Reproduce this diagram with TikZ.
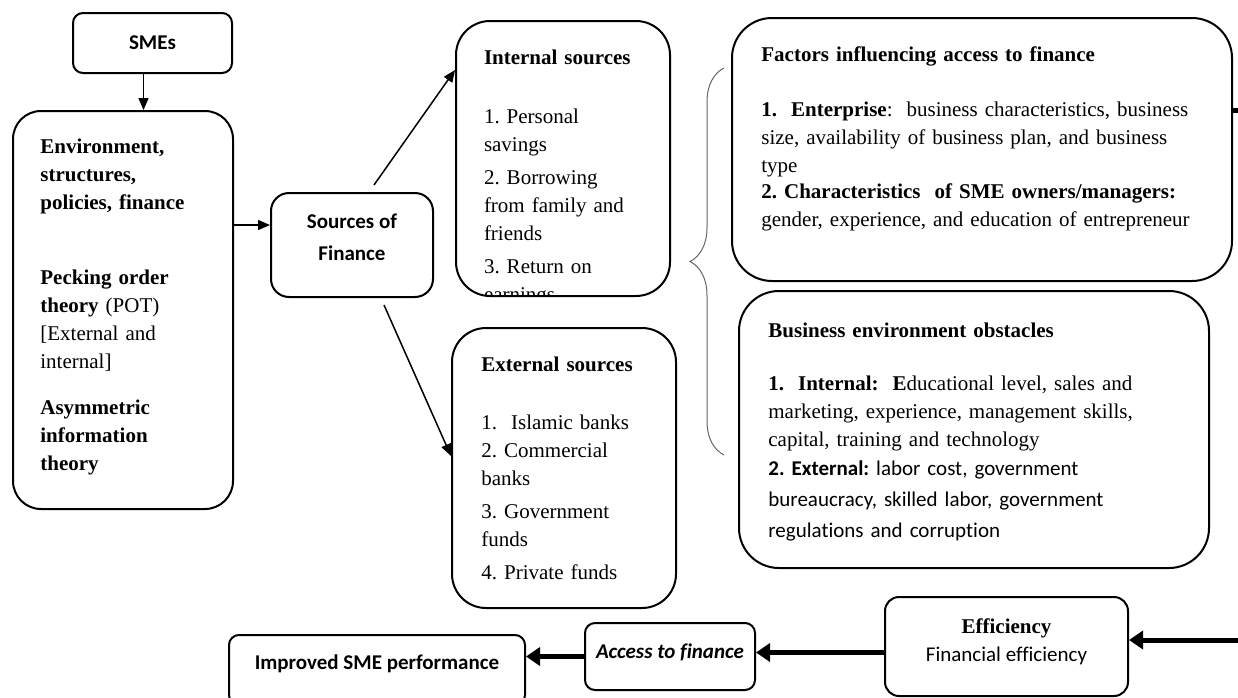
\documentclass[tikz,border=0pt]{standalone}
\usepackage{fontspec}
\setmainfont{Liberation Serif}
\setsansfont{Carlito}[Ligatures=NoCommon]
\usepackage{tikz}
\usetikzlibrary{positioning, arrows.meta, decorations.pathreplacing}
\frenchspacing

\begin{document}
\begin{tikzpicture}[x=0.5pt, y=-0.5pt,
  box/.style={draw, line width=1pt, rounded corners=#1, inner sep=0pt},
  box/.default=6pt,
  txt/.style={inner sep=0pt, anchor=north west, align=left, font=\fontsize{10.5}{14}\selectfont},
  sans/.style={font=\sffamily\bfseries\fontsize{10.5}{16}\selectfont},
  arr/.style={-{Triangle[length=6pt,width=5pt]}, line width=0.75pt},
  big/.style={-{Triangle[length=7pt,width=9pt]}, line width=2.5pt}]
\useasboundingbox (0,0) rectangle (1238,697);
\clip (0,0) rectangle (1238,697);

% boxes
\node[box=5pt, minimum width=79.5pt, minimum height=30pt, sans] (smes) at (152.5,43) {SMEs};
\node[box=14pt, minimum width=110pt, minimum height=199pt, anchor=north west] (env) at (12,110) {};
\node[box=9pt, minimum width=81pt, minimum height=52pt, anchor=north west, align=center, sans, text depth=7.5pt] (sof) at (270,192) {Sources of\\Finance};
\node[box=17pt, minimum width=107pt, minimum height=137.5pt, anchor=north west,
  path picture={\node[txt, text width=95pt] (intltxt) at ([xshift=7.5pt, yshift=-9pt]path picture bounding box.north west) {\textbf{Internal sources}\\[15.5pt]
  1. Personal\\ savings\\[2.5pt]
  2. Borrowing\\ from family and\\ friends\\[2.5pt]
  3. Return on\\ earnings};}] (intl) at (455,20) {};
\node[box=17pt, minimum width=112pt, minimum height=140pt, anchor=north west] (extl) at (451,327) {};
\node[box=20pt, minimum width=250pt, minimum height=131.5pt, anchor=north west] (fact) at (731,17) {};
\node[box=20pt, minimum width=235pt, minimum height=138.5pt, anchor=north west] (benv) at (738,290) {};
\node[box=5pt, minimum width=148pt, minimum height=35pt, anchor=north west, sans, text depth=7.5pt] (impr) at (228,634) {Improved SME performance};
\node[box=5pt, minimum width=85pt, minimum height=33.5pt, text depth=5.5pt, font=\sffamily\bfseries\itshape\fontsize{10.5}{14}\selectfont] (acc) at (670,656.5) {Access to finance};
\node[box=7pt, minimum width=121.5pt, minimum height=49.5pt, anchor=north west, align=center, text depth=6.5pt, font=\sffamily\fontsize{10.5}{14}\selectfont] (eff) at (884,596) {{\rmfamily\bfseries Efficiency}\\Financial efficiency};

% texts
\node[txt, text width=95pt] (envtxt) at (40,139) {\textbf{Environment,\\ structures,\\ policies, finance}\\[23.5pt]
  \textbf{Pecking order\\ theory} (POT)\\ {[}External and\\ internal{]}\\[9pt]
  \textbf{Asymmetric\\ information\\ theory}};
\node[txt, text width=100pt] (extltxt) at (481,357) {\textbf{External sources}\\[15pt]
  1.\ \ Islamic banks\\ 2. Commercial\\ banks\\[2.5pt]
  3. Government\\ funds\\[2.5pt]
  4. Private funds};
\node[txt, text width=235pt] (facttxt) at (761,46) {\textbf{Factors influencing access to finance}\\[13.5pt]
  \textbf{1.\ \ Enterprise}:\ \ business characteristics, business\\ size, availability of business plan, and business\\ type\\[-1pt]
  \textbf{2. Characteristics\ \ of SME owners/managers:}\\ gender, experience, and education of entrepreneur};
\node[txt, text width=225pt] (benvtxt) at (768,323) {\textbf{Business environment obstacles}\\[12.5pt]
  \textbf{1.\ \ Internal:\ \ E}ducational level, sales and\\ marketing, experience, management skills,\\ capital, training and technology\\[0.5pt]
  {\sffamily\textbf{2. External:} labor cost, government}\\[1.5pt]
  {\sffamily bureaucracy, skilled labor, government}\\[1.5pt]
  {\sffamily regulations and corruption}};

% brace
\coordinate (brA) at (724,455);
\coordinate (brB) at (724,68);
\draw[black!60, line width=0.5pt, decorate, decoration={brace, amplitude=17pt}] (brA) -- (brB);

% connectors
\draw[arr] ([xshift=-4.5pt]smes.south) -- ([xshift=-4.5pt]smes.south |- env.north);
\coordinate (sofin) at ([yshift=10pt]sof.west);
\draw[arr] (env.east |- sofin) -- (sofin);
\draw[arr] ([xshift=11pt, yshift=3.5pt]sof.north) -- ([yshift=-25pt]intl.north west);
\draw[arr] ([xshift=16pt, yshift=-3.5pt]sof.south) -- ([yshift=6pt]extl.west);
\coordinate (factout) at (1250,110);
\draw[line width=2.5pt] (factout -| fact.east) -- (factout);
\coordinate (effin) at (1250,640);
\draw[big] (effin) -- (effin -| eff.east);
\draw[big] ([yshift=-3pt]eff.west) -- ([yshift=-3pt]eff.west -| acc.east);
\draw[big] (acc.west) -- (acc.west -| impr.east);
\end{tikzpicture}
\end{document}
